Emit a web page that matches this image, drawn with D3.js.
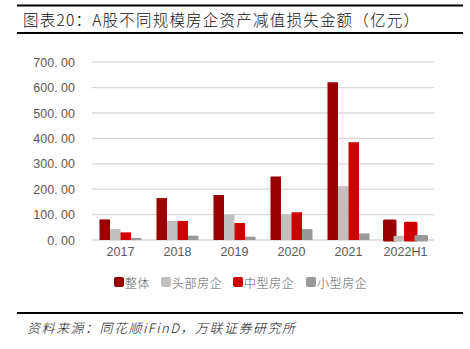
<!DOCTYPE html>
<html><head><meta charset="utf-8">
<script src="https://cdn.jsdelivr.net/npm/d3@7"></script>
<style>body{margin:0;background:#fff;}svg{display:block;}</style>
</head><body>
<svg id="c" width="470" height="349"></svg>
<script>
const categories = ["2017","2018","2019","2020","2021","2022H1"];
const seriesNames = ["整体","头部房企","中型房企","小型房企"];
const seriesColors = ["#990000","#c0c0c0","#cc0000","#999999"];
const overall = [81,165,177,250,621,75];
const topFirms = [43,75,100,101,212,11];
const midFirms = [30,75,67,109,385,66];
const smallFirms = [8,17,13,43,26,14];
const yTicks = [0,100,200,300,400,500,600,700];
const yTickLabels = ["0.00","100.00","200.00","300.00","400.00","500.00","600.00","700.00"];
const title = "图表20：A股不同规模房企资产减值损失金额（亿元）";
const source = "资料来源：同花顺iFinD，万联证券研究所";

const series = [overall, topFirms, midFirms, smallFirms];
const svg = d3.select("#c");

// frame lines
svg.append("rect").attr("x",17).attr("y",4.5).attr("width",446).attr("height",2).attr("fill","#000");
svg.append("rect").attr("x",17).attr("y",32).attr("width",446).attr("height",2).attr("fill","#000");
svg.append("rect").attr("x",17).attr("y",312).attr("width",446).attr("height",2).attr("fill","#000");

svg.append("text").attr("x",23).attr("y",19).attr("dominant-baseline","central")
  .attr("font-family","'Noto Sans CJK SC'").attr("font-size",15.5).attr("font-weight",300).attr("fill","#111")
  .attr("textLength",396).attr("lengthAdjust","spacing").text(title);

svg.append("text").attr("x",27).attr("y",327).attr("dominant-baseline","central")
  .attr("font-family","'Noto Sans CJK SC'").attr("font-size",13).attr("font-style","italic").attr("font-weight",300)
  .attr("fill","#111").attr("textLength",268).attr("lengthAdjust","spacing").text(source);

const x = d3.scaleBand().domain(categories).range([92,434]).paddingInner(0).paddingOuter(0);
const y = d3.scaleLinear().domain([0,700]).range([240,62.2]);
const groupW = 42;
const xs = d3.scaleBand().domain(d3.range(4)).range([0,groupW]).padding(0);

// gridlines
const g = svg.append("g");
g.selectAll("line.grid").data(yTicks).join("line")
  .attr("x1",92).attr("x2",434).attr("y1",d=>y(d)).attr("y2",d=>y(d))
  .attr("stroke","#d9d9d9").attr("stroke-width",1.3);

// y labels
const yAxis = d3.axisLeft(y).tickValues(yTicks).tickSize(0).tickPadding(0)
  .tickFormat((d,i)=>yTickLabels[i]);
const ya = svg.append("g").attr("transform","translate(75,0)").call(yAxis);
ya.select(".domain").remove();
ya.selectAll("text").attr("font-family","'Liberation Sans', Arial").attr("font-size",12.5)
  .attr("fill","#595959");
ya.selectAll("text").text((d,i)=>yTickLabels[i].replace(".",". "));

// bars
const bars = svg.append("g");
categories.forEach((c,ci)=>{
  const gx = x(c) + (x.bandwidth()-groupW)/2;
  const last = ci === categories.length-1;
  series.forEach((s,si)=>{
    const v = s[ci];
    bars.append("rect")
      .attr("x", gx + xs(si)).attr("width", xs.bandwidth())
      .attr("y", y(v)).attr("height", y(0)-y(v))
      .attr("fill", seriesColors[si])
      .attr("stroke", last ? seriesColors[si] : "none")
      .attr("stroke-width", last ? 3 : 0)
      .attr("stroke-linejoin","round");
  });
});

// x labels
const xAxis = d3.axisBottom(x).tickSize(0).tickPadding(0);
const xa = svg.append("g").attr("transform","translate(0,248)").call(xAxis);
xa.select(".domain").remove();
xa.selectAll("text").attr("font-family","'Liberation Sans', Arial").attr("font-size",12.5)
  .attr("fill","#595959").attr("dy","0.6em");

// legend
const legendX = [114,161,233,306];
const lg = svg.append("g");
seriesNames.forEach((n,i)=>{
  lg.append("rect").attr("x",legendX[i]).attr("y",277).attr("width",10).attr("height",10)
    .attr("rx",2).attr("fill",seriesColors[i]);
  lg.append("text").attr("x",legendX[i]+11).attr("y",282).attr("dominant-baseline","central")
    .attr("font-family","'Noto Sans CJK SC'").attr("font-size",12).attr("font-weight",300).attr("fill","#595959")
    .attr("letter-spacing",0.6).text(n);
});
</script>
</body></html>
